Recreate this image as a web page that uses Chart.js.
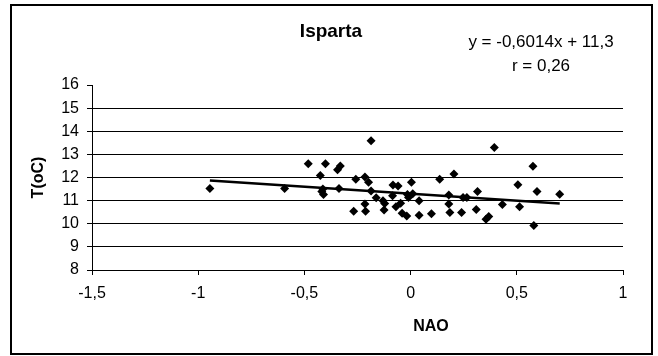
<!DOCTYPE html>
<html>
<head>
<meta charset="utf-8">
<title>Isparta</title>
<script src="https://cdn.jsdelivr.net/npm/chart.js@4.4.1/dist/chart.umd.min.js"></script>
<style>
  html, body { margin: 0; padding: 0; background: #fff; }
  canvas { display: block; }
</style>
</head>
<body>
<canvas id="isparta" width="658" height="356"></canvas>
<script>
// NAO index (x) and temperature (y)
const nao = [
  -0.945, -0.593, -0.482, -0.401, -0.425, -0.413, -0.418, -0.41, -0.344, -0.331,
  -0.337, -0.258, -0.268, -0.215, -0.198, -0.186, -0.186, -0.215, -0.212, -0.162,
  -0.13, -0.122, -0.125, -0.083, -0.059, -0.085, -0.069, -0.047, -0.04, -0.018,
  -0.015, -0.01, 0.01, 0.004, 0.04, 0.04, 0.098, 0.137, 0.204, 0.18,
  0.18, 0.185, 0.24, 0.247, 0.265, 0.315, 0.309, 0.355, 0.368, 0.394,
  0.432, 0.505, 0.513, 0.576, 0.595, 0.58, 0.702
];
const temp = [
  11.52, 11.52, 12.6, 12.6, 12.09, 11.5, 11.4, 11.27, 12.33, 12.5,
  11.52, 11.92, 10.54, 12.02, 11.8, 13.59, 11.42, 10.85, 10.54, 11.12,
  11.0, 10.88, 10.6, 11.68, 11.63, 11.21, 10.74, 10.89, 10.45, 10.33,
  11.27, 11.13, 11.3, 11.8, 11.0, 10.37, 10.43, 11.92, 12.15, 11.24,
  10.85, 10.49, 10.49, 11.13, 11.13, 11.4, 10.62, 10.2, 10.31, 13.3,
  10.83, 11.69, 10.73, 12.49, 11.4, 9.92, 11.28
];

const xTicks = [-1.5, -1, -0.5, 0, 0.5, 1];
const yTicks = [8, 9, 10, 11, 12, 13, 14, 15, 16];

// trend line as printed on the chart
const slope = -0.6014;
const intercept = 11.3;
const equationLines = ['y = -0,6014x + 11,3', 'r = 0,26'];

const chartTitle = 'Isparta';
const xTitle = 'NAO';
const yTitle = 'T(oC)';

const FONT = '"Liberation Sans", Arial, sans-serif';

const points = nao.map((x, i) => ({ x: x, y: temp[i] }));
const xMin = Math.min(...nao);
const xMax = Math.max(...nao);
const trend = [
  { x: xMin, y: slope * xMin + intercept },
  { x: xMax, y: slope * xMax + intercept }
];

const comma = v => String(v).replace('.', ',');

const chartText = {
  id: 'chartText',
  beforeDraw(chart) {
    const ctx = chart.ctx;
    ctx.save();
    ctx.fillStyle = '#fff';
    ctx.fillRect(0, 0, chart.width, chart.height);
    ctx.strokeStyle = '#000';
    ctx.lineWidth = 2;
    ctx.strokeRect(11, 5, 641, 349);
    ctx.restore();
  },
  afterDraw(chart) {
    const ctx = chart.ctx;
    ctx.save();
    ctx.fillStyle = '#000';
    ctx.textAlign = 'center';
    ctx.textBaseline = 'middle';
    ctx.font = 'bold 19px ' + FONT;
    ctx.fillText(chartTitle, 331, 32);
    ctx.font = '17px ' + FONT;
    ctx.fillText(equationLines[0], 541, 42);
    ctx.fillText(equationLines[1], 541, 66);
    ctx.font = 'bold 16px ' + FONT;
    ctx.fillText(xTitle, 431, 327);
    ctx.restore();
  }
};

new Chart(document.getElementById('isparta'), {
  type: 'scatter',
  data: {
    datasets: [
      {
        data: points,
        pointStyle: 'rectRot',
        pointRadius: 4.5,
        backgroundColor: '#000',
        borderColor: '#000',
        borderWidth: 0
      },
      {
        type: 'line',
        data: trend,
        borderColor: '#000',
        borderWidth: 2.5,
        pointRadius: 0,
        fill: false
      }
    ]
  },
  options: {
    responsive: false,
    animation: false,
    devicePixelRatio: 1,
    layout: { padding: { left: 12, right: 35, top: 85, bottom: 4 } },
    plugins: {
      legend: { display: false },
      tooltip: { enabled: false }
    },
    scales: {
      x: {
        type: 'linear',
        min: -1.5,
        max: 1,
        afterBuildTicks: s => { s.ticks = xTicks.map(v => ({ value: v })); },
        afterFit: s => { s.height = 82; },
        grid: { drawOnChartArea: false, tickColor: '#000', tickLength: 5 },
        border: { color: '#000', width: 1 },
        ticks: {
          color: '#000',
          font: { family: FONT, size: 16 },
          padding: 9,
          maxRotation: 0,
          callback: comma
        }
      },
      y: {
        min: 8,
        max: 16,
        afterBuildTicks: s => { s.ticks = yTicks.map(v => ({ value: v })); },
        afterFit: s => { s.width = 80; },
        grid: {
          color: c => (c.tick && c.tick.value === 16) ? 'rgba(0,0,0,0)' : '#000',
          tickColor: '#000',
          tickLength: 5
        },
        border: { color: '#000', width: 1 },
        title: {
          display: true,
          text: yTitle,
          color: '#000',
          font: { family: FONT, size: 16, weight: 'bold' },
          padding: { top: 17, bottom: 0 }
        },
        ticks: {
          color: '#000',
          font: { family: FONT, size: 16 },
          padding: 8,
          callback: comma
        }
      }
    }
  },
  plugins: [chartText]
});
</script>
</body>
</html>
